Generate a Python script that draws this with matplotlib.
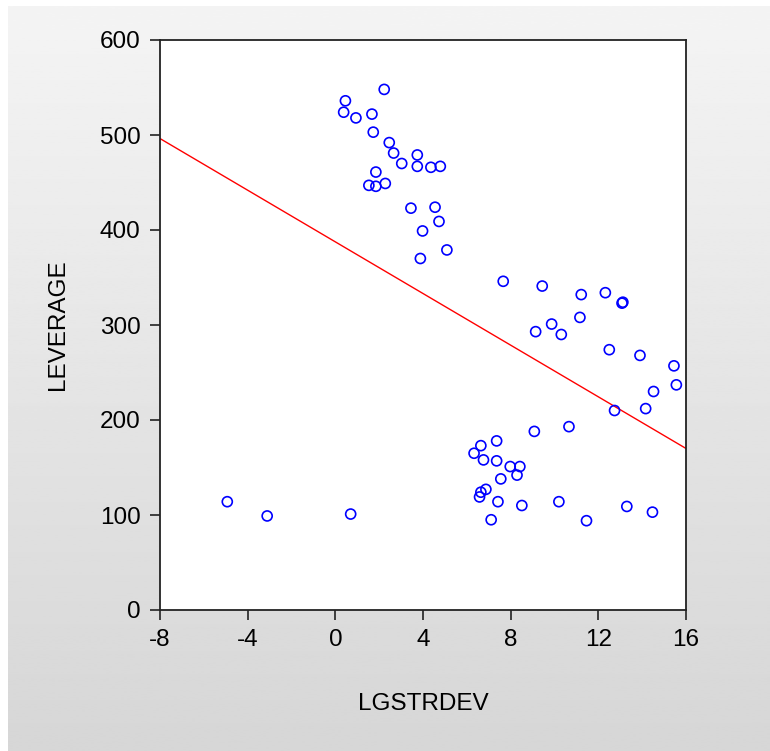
import numpy as np
import matplotlib
matplotlib.use('Agg')
import matplotlib.pyplot as plt

plt.rcParams['font.family'] = ['Liberation Sans', 'DejaVu Sans']
plt.rcParams['axes.unicode_minus'] = False

# LGSTRDEV values (x)
lgstrdev = [2.23, 0.46, 0.38, 0.94, 1.67, 1.73, 2.46, 2.66, 3.74, 3.03, 3.74, 4.36,
            4.79, 1.85, 1.53, 1.85, 2.28, 3.45, 4.55, 4.73, 3.98, 5.09, 3.88,
            7.66, 9.44, 11.22, 12.32, 13.08, 13.12, 11.16, 9.87, 9.14, 10.31, 12.50,
            13.90, 15.45, 15.56, 14.52, 14.16, 12.74, 10.66, 9.08,
            -4.93, -3.11, 0.70, 6.33, 6.64, 6.76, 7.36, 7.36, 7.98, 8.42, 8.29,
            7.55, 6.87, 6.64, 6.58, 7.42, 8.51, 10.20, 7.11, 11.46, 13.30, 14.47]
# LEVERAGE values (y)
leverage = [548, 536, 524, 518, 522, 503, 492, 481, 479, 470, 467, 466,
            467, 461, 447, 446, 449, 423, 424, 409, 399, 379, 370,
            346, 341, 332, 334, 323, 324, 308, 301, 293, 290, 274,
            268, 257, 237, 230, 212, 210, 193, 188,
            114, 99, 101, 165, 173, 158, 178, 157, 151, 151, 142,
            138, 127, 124, 119, 114, 110, 114, 95, 94, 109, 103]

xticks = [-8, -4, 0, 4, 8, 12, 16]
yticks = [0, 100, 200, 300, 400, 500, 600]

fig = plt.figure(figsize=(7.7, 7.51), dpi=100, facecolor='white')

# gray gradient background (white strip on top and left)
bg = fig.add_axes([8 / 770, 0, 1 - 8 / 770, 1 - 6 / 751])
grad = np.linspace(0.957, 0.84, 256).reshape(-1, 1)
bg.imshow(grad, aspect='auto', cmap='gray', vmin=0, vmax=1, extent=[0, 1, 0, 1])
bg.axis('off')

ax = fig.add_axes([160 / 770, 1 - 610 / 751, 526 / 770, 570 / 751])
ax.set_facecolor('white')

x = np.array(lgstrdev)
y = np.array(leverage)
ax.scatter(x, y, s=52, facecolors='none', edgecolors='#0000ff', linewidths=1.2, zorder=3)

b, a = np.polyfit(x, y, 1)
xx = np.array([-8, 16])
ax.plot(xx, a + b * xx, color='red', lw=1, zorder=2)

ax.set_xlim(-8, 16)
ax.set_ylim(0, 600)
ax.set_xticks(xticks)
ax.set_yticks(yticks)
ax.tick_params(direction='out', length=7, width=1.2, labelsize=17.5, pad=7,
               color='#222222')
for s in ax.spines.values():
    s.set_linewidth(1.3)
    s.set_color('#222222')
ax.set_xlabel('LGSTRDEV', fontsize=17.5, labelpad=30)
ax.set_ylabel('LEVERAGE', fontsize=17.5, labelpad=22)

fig.savefig('out.png', dpi=100, facecolor='white')
